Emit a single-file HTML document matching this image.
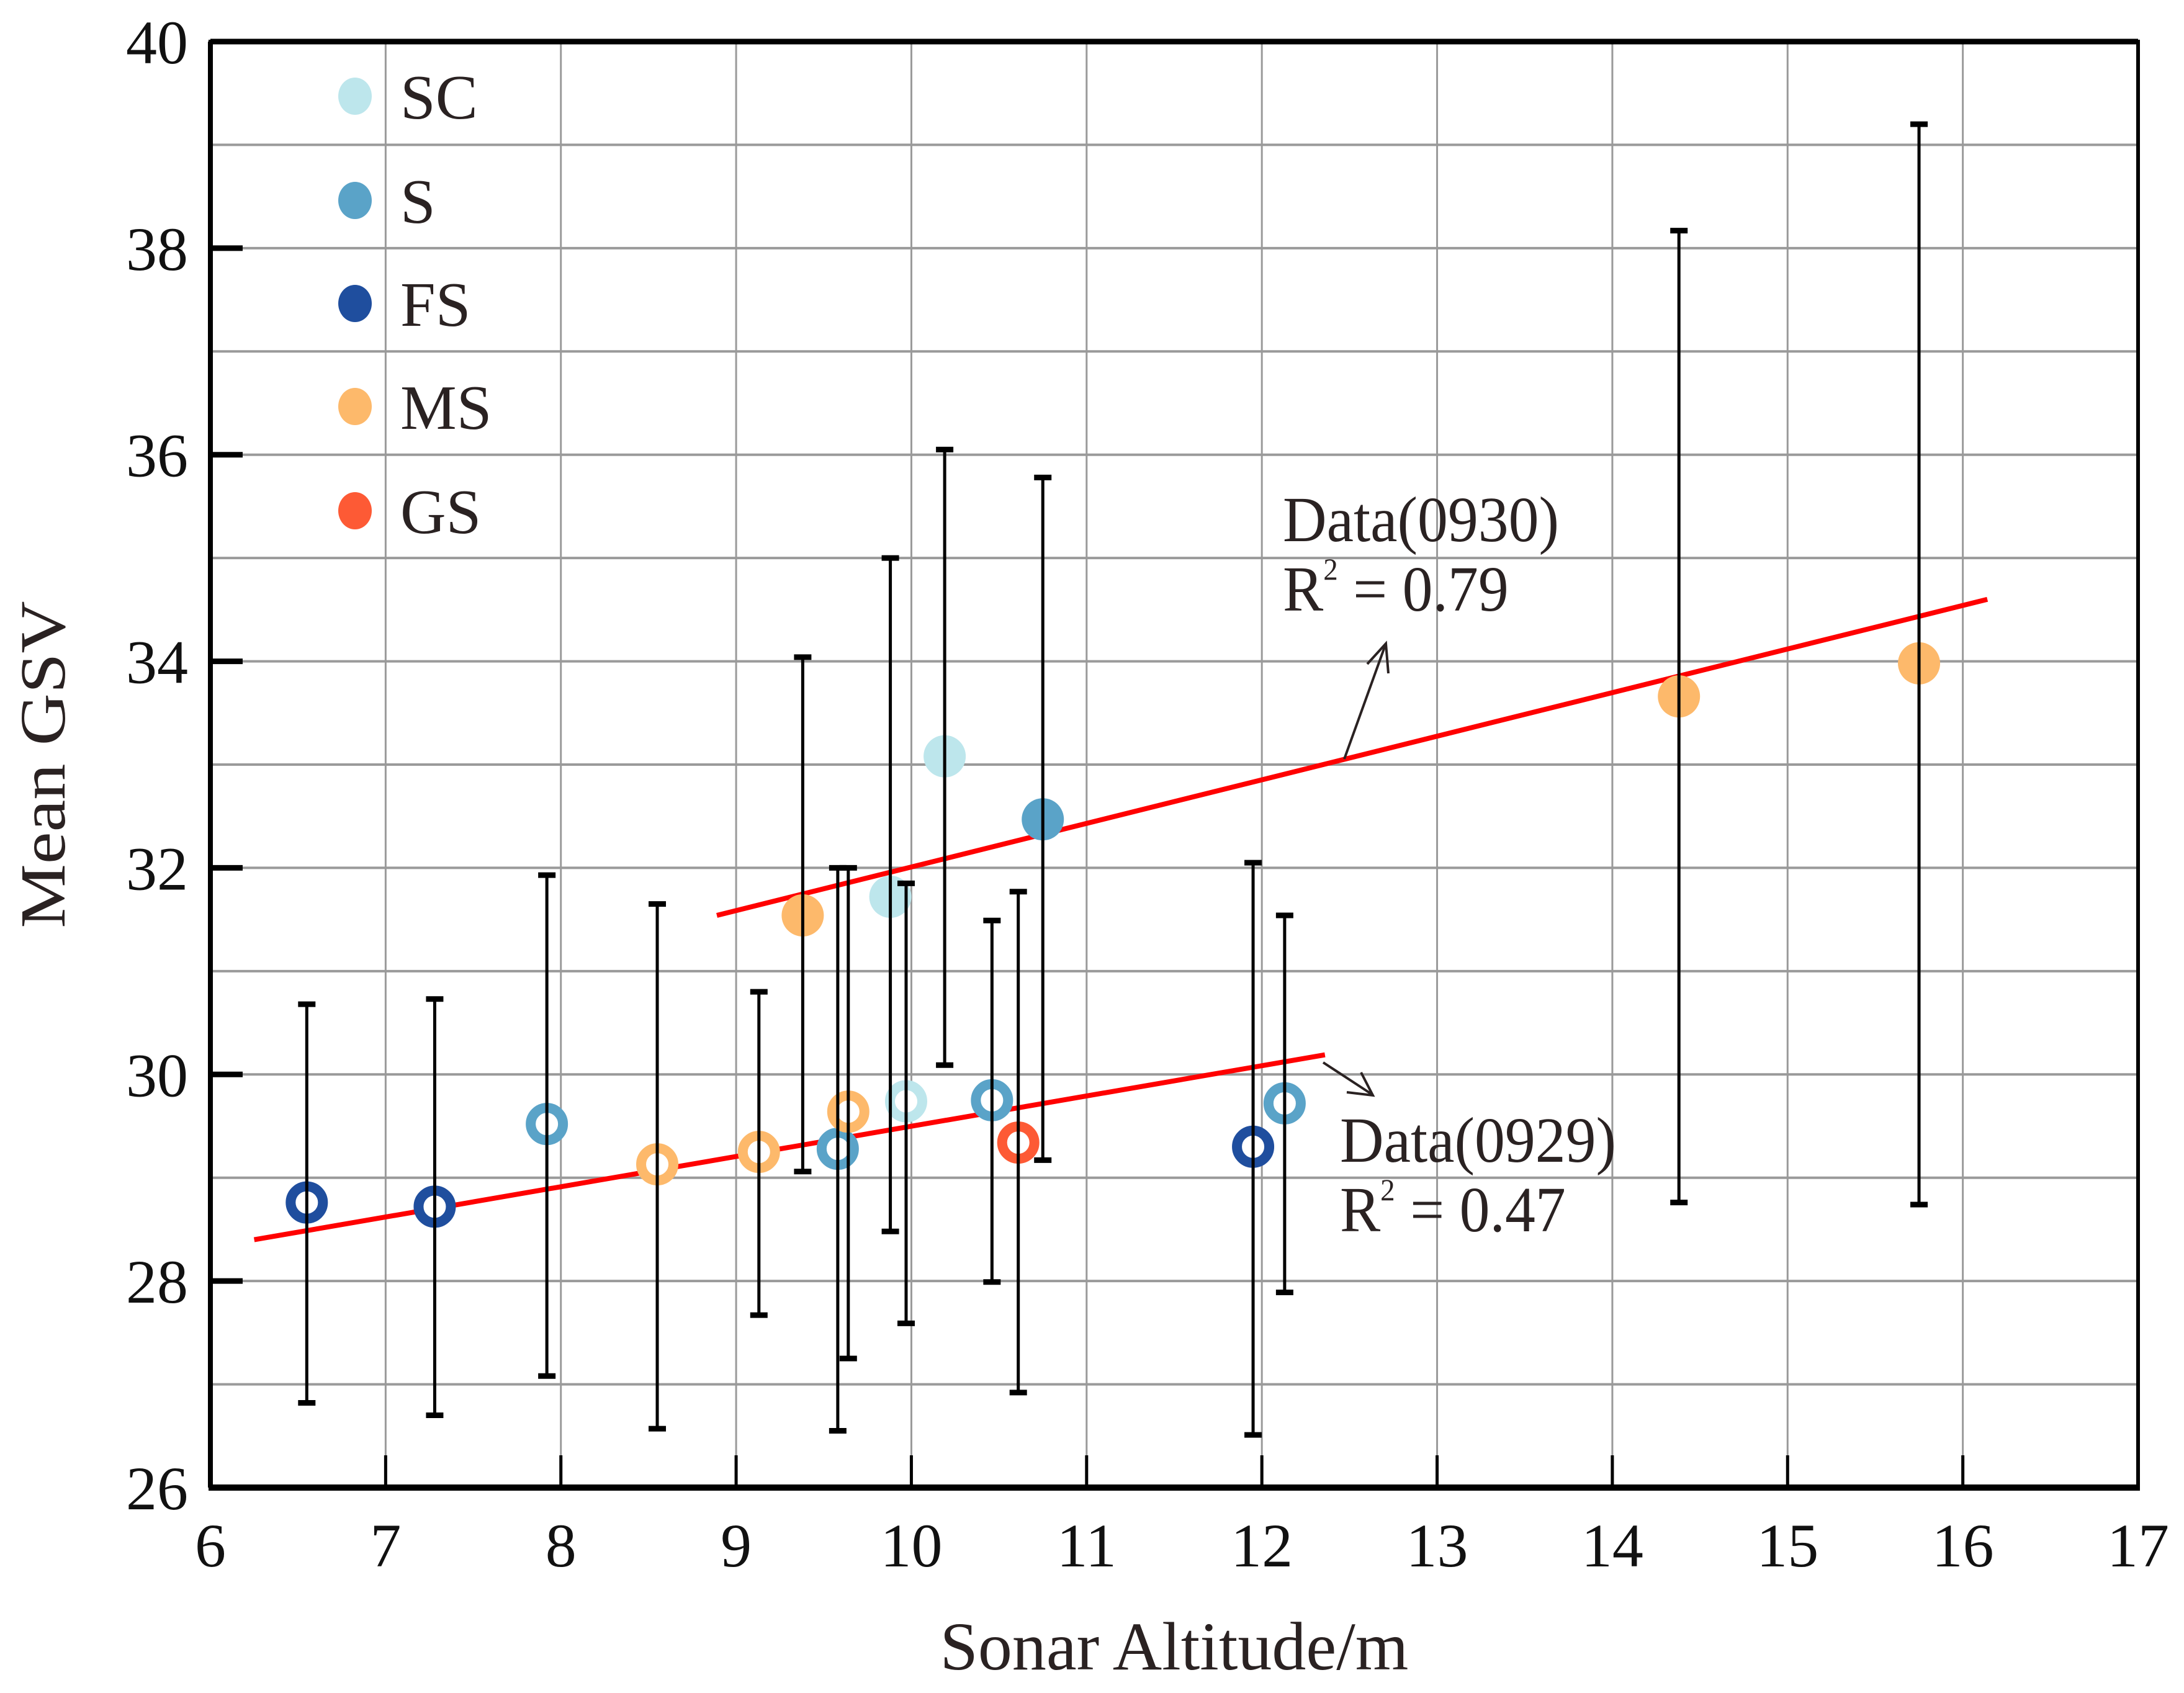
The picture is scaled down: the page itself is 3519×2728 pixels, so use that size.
<!DOCTYPE html>
<html><head><meta charset="utf-8"><style>
html,body{margin:0;padding:0;background:#fff;}
svg{display:block;font-family:"Liberation Serif",serif;}
</style></head><body>
<svg id="chart" width="3519" height="2728" viewBox="0 0 3519 2728" xmlns="http://www.w3.org/2000/svg">
<rect x="0" y="0" width="3519" height="2728" fill="#fff"/>
<g id="grid"></g>
<g id="lines"></g>
<g id="marks"></g>
<g id="bars"></g>
<g id="axes"></g>
<g id="legend"></g>
<g id="ann">
  <text x="2067" y="872" font-size="104" fill="#2a2222" transform="translate(2067,0) scale(0.94,1) translate(-2067,0)">Data(0930)</text>
  <text x="2067" y="984" font-size="104" fill="#2a2222" transform="translate(2067,0) scale(0.94,1) translate(-2067,0)">R<tspan font-size="50" dy="-50">2</tspan><tspan dy="50"> = 0.79</tspan></text>
  <text x="2159" y="1872" font-size="104" fill="#2a2222" transform="translate(2159,0) scale(0.94,1) translate(-2159,0)">Data(0929)</text>
  <text x="2159" y="1984" font-size="104" fill="#2a2222" transform="translate(2159,0) scale(0.94,1) translate(-2159,0)">R<tspan font-size="50" dy="-50">2</tspan><tspan dy="50"> = 0.47</tspan></text>
  <g stroke="#2a2222" stroke-width="4" fill="none">
    <line x1="2166" y1="1223" x2="2233" y2="1037"/>
    <polyline points="2203,1070 2233,1037 2237,1085"/>
  </g>
  <g stroke="#2a2222" stroke-width="4" fill="none">
    <line x1="2132" y1="1712" x2="2210" y2="1763"/>
    <polyline points="2170,1760 2212,1765 2193,1728"/>
  </g>
</g>
<text x="1892" y="2690" font-size="110" text-anchor="middle" fill="#2a2222">Sonar Altitude/m</text>
<text transform="translate(104,1232) rotate(-90) scale(1.12,1)" font-size="104" text-anchor="middle" fill="#2a2222">Mean GSV</text>
</svg>
<script>
const xTicks=[6,7,8,9,10,11,12,13,14,15,16,17];
const yTicks=[26,28,30,32,34,36,38,40];
const cats=["SC","S","FS","MS","GS"];
const catColors=["#bde6ec","#5aa3c8","#1f4e9e","#fdb96b","#fd5a35"];
// Data(0929) open markers
const x0929=[6.55,7.28,7.92,8.55,9.13,9.58,9.64,9.97,10.46,10.61,11.95,12.13];
const y0929=[28.76,28.72,29.52,29.13,29.25,29.28,29.64,29.74,29.75,29.34,29.30,29.72];
const hi0929=[30.68,30.73,31.93,31.65,30.80,32.0,32.0,31.85,31.49,31.77,32.05,31.54];
const lo0929=[26.82,26.70,27.08,26.57,27.67,26.55,27.25,27.59,27.99,26.92,26.51,27.89];
const c0929=["FS","FS","S","MS","MS","S","MS","SC","S","GS","FS","S"];
// Data(0930) filled markers
const x0930=[9.38,9.88,10.19,10.75,14.38,15.75];
const y0930=[31.54,31.72,33.08,32.47,33.66,33.98];
const hi0930=[34.04,35.0,36.05,35.78,38.17,39.2];
const lo0930=[29.06,28.48,30.09,29.17,28.76,28.74];
const c0930=["MS","SC","SC","S","MS","MS"];
// trend lines [x1,y1,x2,y2]
const fit0930=[8.89,31.54,16.14,34.6];
const fit0929=[6.25,28.40,12.36,30.19];

const L=339,R=3445,T=67,B=2397;
const xs=v=>L+(v-6)/(17-6)*(R-L);
const ys=v=>B-(v-26)/(40-26)*(B-T);
const NS="http://www.w3.org/2000/svg";
function mk(tag,parent,attrs){const e=document.createElementNS(NS,tag);for(const k in attrs)e.setAttribute(k,attrs[k]);parent.appendChild(e);return e;}
const grid=document.getElementById('grid'),axes=document.getElementById('axes'),marks=document.getElementById('marks'),bars=document.getElementById('bars'),lines=document.getElementById('lines'),legend=document.getElementById('legend');
for(let v=7;v<17;v++){const e=mk('line',grid,{x1:xs(v),x2:xs(v),y1:T,y2:B,stroke:'#9a9a9a','stroke-width':3});

}
for(let v=27;v<40;v++){const e=mk('line',grid,{x1:L,x2:R,y1:ys(v),y2:ys(v),stroke:'#9a9a9a','stroke-width':4});

}
function fit(f,name){const e=mk('line',lines,{x1:xs(f[0]),y1:ys(f[1]),x2:xs(f[2]),y2:ys(f[3]),stroke:'#ff0000','stroke-width':8});

}
fit(fit0930,'trend-line-0930');fit(fit0929,'trend-line-0929');
function col(c){return catColors[cats.indexOf(c)];}
x0929.forEach((x,i)=>{const e=mk('circle',marks,{cx:xs(x),cy:ys(y0929[i]),r:26,fill:'#fff',stroke:col(c0929[i]),'stroke-width':16});

});
x0930.forEach((x,i)=>{const e=mk('circle',marks,{cx:xs(x),cy:ys(y0930[i]),r:34,fill:col(c0930[i])});

});
function ebar(x,hi,lo){const g=mk('g',bars,{stroke:'#000','stroke-width':5});


const X=xs(x);mk('line',g,{x1:X,x2:X,y1:ys(hi),y2:ys(lo)});
mk('line',g,{x1:X-14,x2:X+14,y1:ys(hi),y2:ys(hi),'stroke-width':9});
mk('line',g,{x1:X-14,x2:X+14,y1:ys(lo),y2:ys(lo),'stroke-width':9});}
x0929.forEach((x,i)=>ebar(x,hi0929[i],lo0929[i]));
x0930.forEach((x,i)=>ebar(x,hi0930[i],lo0930[i]));
let e=mk('rect',axes,{x:L,y:T,width:R-L,height:B-T,fill:'none',stroke:'#000','stroke-width':6});


e=mk('line',axes,{x1:L-3,x2:R+3,y1:B,y2:B,stroke:'#000','stroke-width':10});


e=mk('line',axes,{x1:L,x2:L,y1:T,y2:B,stroke:'#000','stroke-width':8});


e=mk('line',axes,{x1:L,x2:R,y1:T,y2:T,stroke:'#000','stroke-width':9});


xTicks.forEach(v=>{mk('line',axes,{x1:xs(v),x2:xs(v),y1:B,y2:B-52,stroke:'#000','stroke-width':5});
const t=mk('text',axes,{x:xs(v),y:2524,'font-size':100,'text-anchor':'middle',fill:'#111'});t.textContent=v;

});
yTicks.forEach(v=>{mk('line',axes,{x1:L,x2:L+52,y1:ys(v),y2:ys(v),stroke:'#000','stroke-width':9});
const t=mk('text',axes,{x:303,y:ys(v)+35,'font-size':100,'text-anchor':'end',fill:'#111'});t.textContent=v;

});
const legY=[155,323,489,655,823];
cats.forEach((c,i)=>{const g=mk('g',legend,{});


mk('ellipse',g,{cx:572,cy:legY[i],rx:27,ry:30,fill:catColors[i]});
const t=mk('text',g,{x:645,y:legY[i]+36,'font-size':102,fill:'#2a2222'});t.textContent=c;});
</script>
</body></html>
